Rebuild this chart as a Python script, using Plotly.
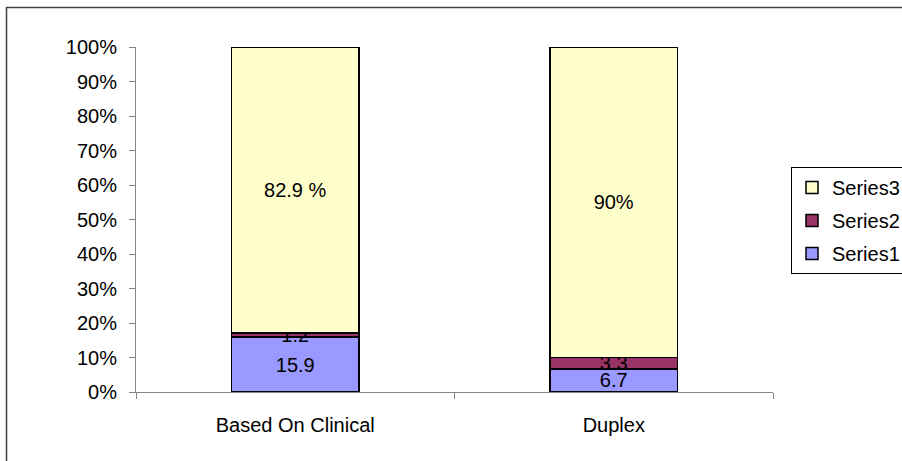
import plotly.graph_objects as go

categories = ["Based On Clinical", "Duplex"]
series1 = [15.9, 6.7]
series2 = [1.2, 3.3]
series3 = [82.9, 90.0]
labels1 = ["15.9", "6.7"]
labels2 = ["1.2", "3.3"]
labels3 = ["82.9 %", "90%"]
y_ticks = [0, 10, 20, 30, 40, 50, 60, 70, 80, 90, 100]
y_ticktext = [f"{v}%" for v in y_ticks]

FONT = "Liberation Sans, Arial, sans-serif"
FS = 20
W, H = 930, 461
L, R, T, B = 136, 773, 47, 392

fig = go.Figure()
for rank, (name, vals, labs, color) in enumerate([
    ("Series1", series1, labels1, "#9999FF"),
    ("Series2", series2, labels2, "#993366"),
    ("Series3", series3, labels3, "#FFFFCC"),
]):
    fig.add_trace(go.Bar(
        x=categories, y=vals, name=name, text=labs, legendgroup=name,
        legendrank=1000 - rank,
        textposition="inside", insidetextanchor="middle", textangle=0,
        constraintext="none", cliponaxis=False,
        textfont=dict(family=FONT, size=FS, color="black"),
        marker=dict(color=color, line=dict(color="black", width=1.5)),
        width=0.4, hoverinfo="skip",
    ))

pw = R - L
ph = B - T
def px_x(x):
    return (x - L) / pw
def px_y(y):
    return (B - y) / ph

fig.update_layout(
    width=W, height=H,
    margin=dict(l=L, r=W - R, t=T, b=H - B, pad=0),
    barmode="stack",
    paper_bgcolor="white", plot_bgcolor="white",
    font=dict(family=FONT, size=FS, color="black"),
    showlegend=True,
    legend=dict(
        x=px_x(791), y=px_y(167), xanchor="left", yanchor="top",
        traceorder="grouped", tracegroupgap=4,
        bordercolor="black", borderwidth=1,
        bgcolor="white", font=dict(family=FONT, size=FS, color="black"),
        itemwidth=30,
    ),
    xaxis=dict(
        showline=True, linecolor="#868686", linewidth=1,
        ticks="outside", ticklen=6, tickcolor="#868686",
        tickson="boundaries", showgrid=False, zeroline=False,
        ticklabelstandoff=15,
        tickfont=dict(family=FONT, size=FS, color="black"),
    ),
    yaxis=dict(
        range=[0, 100], tickmode="array", tickvals=y_ticks, ticktext=y_ticktext,
        showline=True, linecolor="#868686", linewidth=1,
        ticks="outside", ticklen=6, tickcolor="#868686",
        showgrid=False, zeroline=False, ticklabelstandoff=8,
        tickfont=dict(family=FONT, size=FS, color="black"),
    ),
    shapes=[dict(
        type="rect", xref="paper", yref="paper",
        x0=px_x(6.5), x1=px_x(925), y0=px_y(475), y1=px_y(7.5),
        line=dict(color="#404040", width=1.5), fillcolor="rgba(0,0,0,0)",
        layer="below",
    )],
)

fig.write_html(
    "out.html",
    config={"displayModeBar": False},
    post_script="document.body.style.margin='0';document.body.style.overflow='hidden';",
)
